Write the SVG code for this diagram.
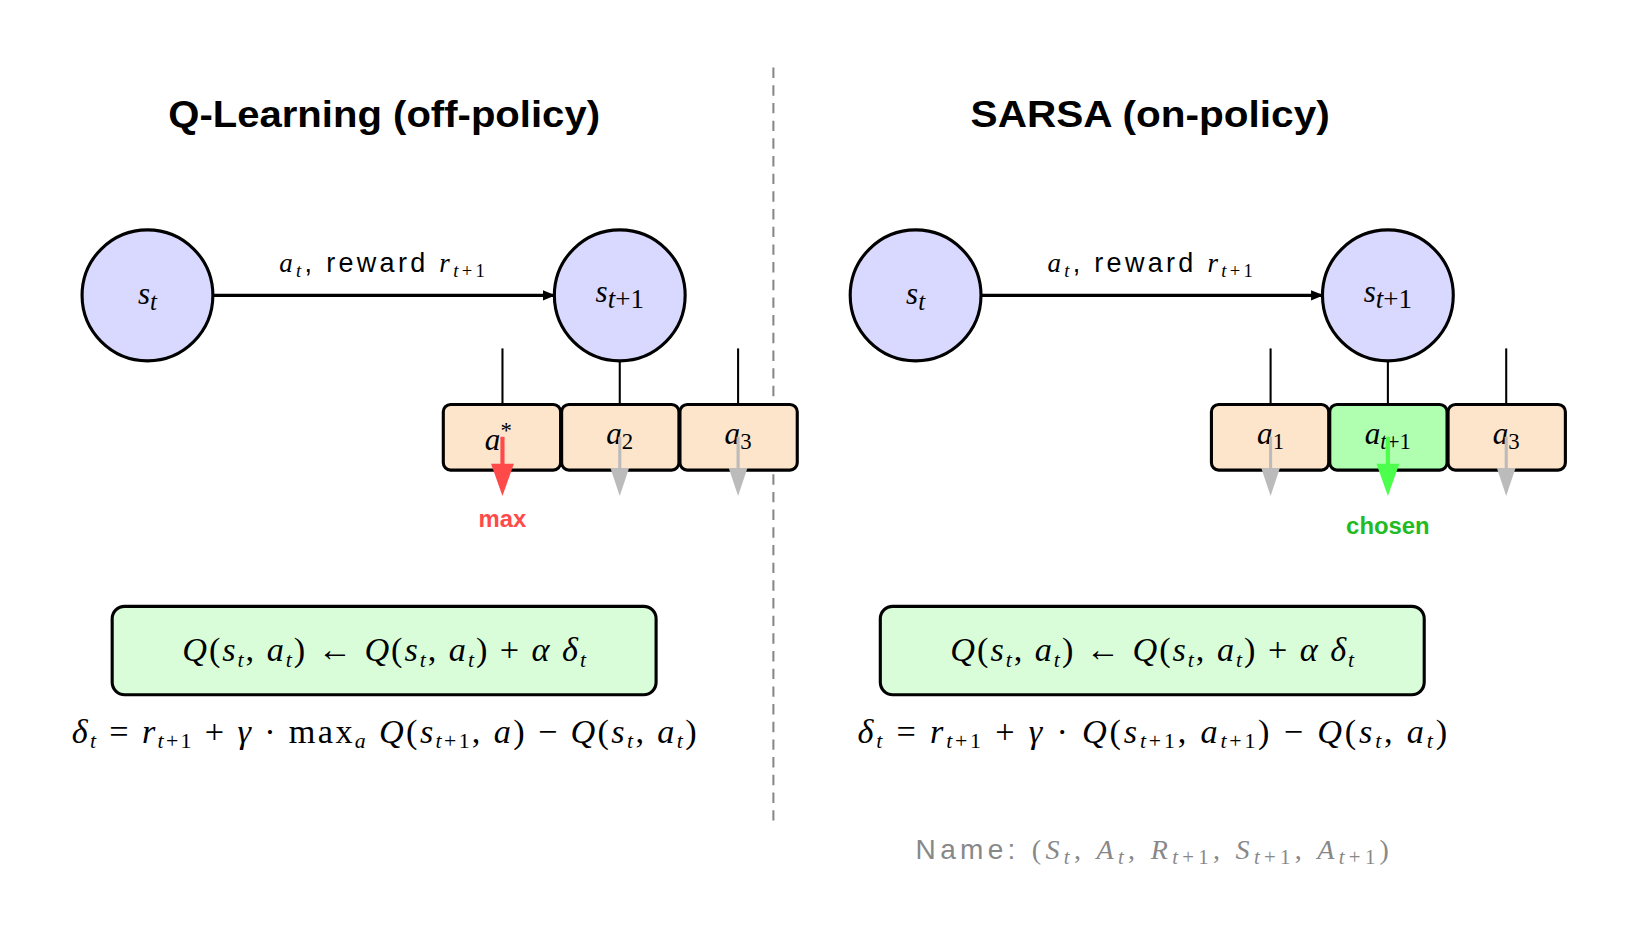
<svg xmlns="http://www.w3.org/2000/svg" width="1627" height="937" viewBox="0 0 1627 937">
<style>
.t{font-family:"Liberation Sans","DejaVu Sans",sans-serif;}
.m{font-family:"Liberation Serif","DejaVu Serif",serif;font-size:30px;}
.f{font-size:33px;}
.i{font-style:italic;}
.st{stroke:#000;stroke-width:3;}
.circ{fill:#d9d9ff;stroke:#000;stroke-width:3;}
.box{fill:#fde5cc;stroke:#000;stroke-width:3;}
.fbox{fill:#d9fdd9;stroke:#000;stroke-width:3;}
</style>
<defs>
<marker id="ah" markerWidth="12" markerHeight="10" refX="11" refY="5" orient="auto" markerUnits="userSpaceOnUse"><path d="M0,0 L12,5 L0,10 z" fill="#000"/></marker>
</defs>
<rect width="1627" height="937" fill="#fff"/>
<g transform="translate(-2,0) scale(1.038,1.04)">
<line x1="747" y1="65" x2="747" y2="795" stroke="#888" stroke-width="2" stroke-dasharray="10,7"/>
<text class="t" x="372" y="122" font-size="36" font-weight="bold" text-anchor="middle" textLength="416" lengthAdjust="spacingAndGlyphs">Q-Learning (off-policy)</text>
<text class="t" x="1110" y="122" font-size="36" font-weight="bold" text-anchor="middle" textLength="346" lengthAdjust="spacingAndGlyphs">SARSA (on-policy)</text>

<g id="connectors">
<line x1="207" y1="284" x2="536" y2="284" class="st" marker-end="url(#ah)"/>
<line x1="947" y1="284" x2="1276" y2="284" class="st" marker-end="url(#ah)"/>
<g stroke="#000" stroke-width="2">
<line x1="486" y1="335" x2="486" y2="389"/><line x1="599" y1="335" x2="599" y2="395"/><line x1="713" y1="335" x2="713" y2="389"/>
<line x1="1226" y1="335" x2="1226" y2="389"/><line x1="1339" y1="335" x2="1339" y2="395"/><line x1="1453" y1="335" x2="1453" y2="389"/>
</g>
</g>

<g id="q-st"><circle cx="144" cy="284" r="63" class="circ"/><text class="m i" x="144" y="292" text-anchor="middle" font-size="34">s<tspan font-size="24" dy="6">t</tspan></text></g>
<g id="q-st1"><circle cx="599" cy="284" r="63" class="circ"/><text class="m i" x="599" y="290" text-anchor="middle" font-size="34">s<tspan font-size="26" dy="6">t</tspan><tspan font-style="normal" font-size="26">+1</tspan></text></g>
<text class="t" x="370" y="262" font-size="26" text-anchor="middle" textLength="198" lengthAdjust="spacing"><tspan class="i" font-family="Liberation Serif">a</tspan><tspan font-family="Liberation Serif" class="i" font-size="18" dy="4">t</tspan><tspan dy="-4">, reward </tspan><tspan font-family="Liberation Serif" class="i">r</tspan><tspan font-family="Liberation Serif" font-size="18" dy="4"><tspan class="i">t</tspan>+1</tspan></text>

<g id="s-st"><circle cx="884" cy="284" r="63" class="circ"/><text class="m i" x="884" y="292" text-anchor="middle" font-size="34">s<tspan font-size="24" dy="6">t</tspan></text></g>
<g id="s-st1"><circle cx="1339" cy="284" r="63" class="circ"/><text class="m i" x="1339" y="290" text-anchor="middle" font-size="34">s<tspan font-size="26" dy="6">t</tspan><tspan font-style="normal" font-size="26">+1</tspan></text></g>
<text class="t" x="1110" y="262" font-size="26" text-anchor="middle" textLength="198" lengthAdjust="spacing"><tspan class="i" font-family="Liberation Serif">a</tspan><tspan font-family="Liberation Serif" class="i" font-size="18" dy="4">t</tspan><tspan dy="-4">, reward </tspan><tspan font-family="Liberation Serif" class="i">r</tspan><tspan font-family="Liberation Serif" font-size="18" dy="4"><tspan class="i">t</tspan>+1</tspan></text>

<g id="q-a1"><rect x="429" y="389" width="113" height="63" rx="7" class="box"/><text class="m i" x="482" y="433" text-anchor="middle">a<tspan font-style="normal" font-size="22" dy="-12">*</tspan></text></g>
<g id="q-a2"><rect x="543" y="389" width="113" height="63" rx="7" class="box"/><text class="m i" x="599" y="427" text-anchor="middle">a<tspan font-style="normal" font-size="22" dy="5">2</tspan></text></g>
<g id="q-a3"><rect x="657" y="389" width="113" height="63" rx="7" class="box"/><text class="m i" x="713" y="427" text-anchor="middle">a<tspan font-style="normal" font-size="22" dy="5">3</tspan></text></g>
<g id="q-arrows">
<line x1="486" y1="420" x2="486" y2="448" stroke="#ff4a4a" stroke-width="4"/><path d="M475,446 L497,446 L486,477 z" fill="#ff4a4a"/>
<line x1="599" y1="420" x2="599" y2="452" stroke="#bbb" stroke-width="3"/><path d="M590,450 L608,450 L599,477 z" fill="#bbb"/>
<line x1="713" y1="420" x2="713" y2="452" stroke="#bbb" stroke-width="3"/><path d="M704,450 L722,450 L713,477 z" fill="#bbb"/>
</g>
<text class="t" x="486" y="507" font-size="23" font-weight="bold" fill="#ff4a4a" text-anchor="middle">max</text>

<g id="s-a1"><rect x="1169" y="389" width="113" height="63" rx="7" class="box"/><text class="m i" x="1226" y="427" text-anchor="middle">a<tspan font-style="normal" font-size="22" dy="5">1</tspan></text></g>
<g id="s-a2"><rect x="1283" y="389" width="113" height="63" rx="7" class="box" style="fill:#b0ffb0"/><text class="m i" x="1339" y="427" text-anchor="middle">a<tspan font-size="22" dy="5">t</tspan><tspan font-style="normal" font-size="22">+1</tspan></text></g>
<g id="s-a3"><rect x="1397" y="389" width="113" height="63" rx="7" class="box"/><text class="m i" x="1453" y="427" text-anchor="middle">a<tspan font-style="normal" font-size="22" dy="5">3</tspan></text></g>
<g id="s-arrows">
<line x1="1226" y1="420" x2="1226" y2="452" stroke="#bbb" stroke-width="3"/><path d="M1217,450 L1235,450 L1226,477 z" fill="#bbb"/>
<line x1="1339" y1="420" x2="1339" y2="448" stroke="#4dff4d" stroke-width="4"/><path d="M1328,446 L1350,446 L1339,477 z" fill="#4dff4d"/>
<line x1="1453" y1="420" x2="1453" y2="452" stroke="#bbb" stroke-width="3"/><path d="M1444,450 L1462,450 L1453,477 z" fill="#bbb"/>
</g>
<text class="t" x="1339" y="513" font-size="23" font-weight="bold" fill="#22bb22" text-anchor="middle">chosen</text>

<g id="q-formula"><rect x="110" y="583" width="524" height="85" rx="12" class="fbox"/>
<text class="m f" x="372" y="636" text-anchor="middle" textLength="389" lengthAdjust="spacing"><tspan class="i">Q</tspan>(<tspan class="i">s<tspan font-size="21" dy="5">t</tspan></tspan><tspan dy="-5">, </tspan><tspan class="i">a<tspan font-size="21" dy="5">t</tspan></tspan><tspan dy="-5">) ← </tspan><tspan class="i">Q</tspan>(<tspan class="i">s<tspan font-size="21" dy="5">t</tspan></tspan><tspan dy="-5">, </tspan><tspan class="i">a<tspan font-size="21" dy="5">t</tspan></tspan><tspan dy="-5">) + </tspan><tspan class="i">α δ<tspan font-size="21" dy="5">t</tspan></tspan></text></g>
<text class="m f" x="372" y="714" text-anchor="middle" textLength="602" lengthAdjust="spacing"><tspan class="i">δ<tspan font-size="21" dy="5">t</tspan></tspan><tspan dy="-5"> = </tspan><tspan class="i">r<tspan font-size="21" dy="5">t</tspan></tspan><tspan font-size="21">+1</tspan><tspan dy="-5"> + </tspan><tspan class="i">γ</tspan> · max<tspan class="i" font-size="21" dy="5">a</tspan><tspan dy="-5"> </tspan><tspan class="i">Q</tspan>(<tspan class="i">s<tspan font-size="21" dy="5">t</tspan></tspan><tspan font-size="21">+1</tspan><tspan dy="-5">, </tspan><tspan class="i">a</tspan>) − <tspan class="i">Q</tspan>(<tspan class="i">s<tspan font-size="21" dy="5">t</tspan></tspan><tspan dy="-5">, </tspan><tspan class="i">a<tspan font-size="21" dy="5">t</tspan></tspan><tspan dy="-5">)</tspan></text>

<g id="s-formula"><rect x="850" y="583" width="524" height="85" rx="12" class="fbox"/>
<text class="m f" x="1112" y="636" text-anchor="middle" textLength="389" lengthAdjust="spacing"><tspan class="i">Q</tspan>(<tspan class="i">s<tspan font-size="21" dy="5">t</tspan></tspan><tspan dy="-5">, </tspan><tspan class="i">a<tspan font-size="21" dy="5">t</tspan></tspan><tspan dy="-5">) ← </tspan><tspan class="i">Q</tspan>(<tspan class="i">s<tspan font-size="21" dy="5">t</tspan></tspan><tspan dy="-5">, </tspan><tspan class="i">a<tspan font-size="21" dy="5">t</tspan></tspan><tspan dy="-5">) + </tspan><tspan class="i">α δ<tspan font-size="21" dy="5">t</tspan></tspan></text></g>
<text class="m f" x="1112" y="714" text-anchor="middle" textLength="568" lengthAdjust="spacing"><tspan class="i">δ<tspan font-size="21" dy="5">t</tspan></tspan><tspan dy="-5"> = </tspan><tspan class="i">r<tspan font-size="21" dy="5">t</tspan></tspan><tspan font-size="21">+1</tspan><tspan dy="-5"> + </tspan><tspan class="i">γ</tspan> · <tspan class="i">Q</tspan>(<tspan class="i">s<tspan font-size="21" dy="5">t</tspan></tspan><tspan font-size="21">+1</tspan><tspan dy="-5">, </tspan><tspan class="i">a<tspan font-size="21" dy="5">t</tspan></tspan><tspan font-size="21">+1</tspan><tspan dy="-5">) − </tspan><tspan class="i">Q</tspan>(<tspan class="i">s<tspan font-size="21" dy="5">t</tspan></tspan><tspan dy="-5">, </tspan><tspan class="i">a<tspan font-size="21" dy="5">t</tspan></tspan><tspan dy="-5">)</tspan></text>

<text class="t" x="1112" y="826" font-size="27" fill="#888" text-anchor="middle" textLength="456" lengthAdjust="spacing">Name: <tspan font-family="Liberation Serif">(<tspan class="i">S<tspan font-size="20" dy="5">t</tspan></tspan><tspan dy="-5">, </tspan><tspan class="i">A<tspan font-size="20" dy="5">t</tspan></tspan><tspan dy="-5">, </tspan><tspan class="i">R<tspan font-size="20" dy="5">t</tspan></tspan><tspan font-size="20">+1</tspan><tspan dy="-5">, </tspan><tspan class="i">S<tspan font-size="20" dy="5">t</tspan></tspan><tspan font-size="20">+1</tspan><tspan dy="-5">, </tspan><tspan class="i">A<tspan font-size="20" dy="5">t</tspan></tspan><tspan font-size="20">+1</tspan><tspan dy="-5">)</tspan></tspan></text>
</g>
</svg>
